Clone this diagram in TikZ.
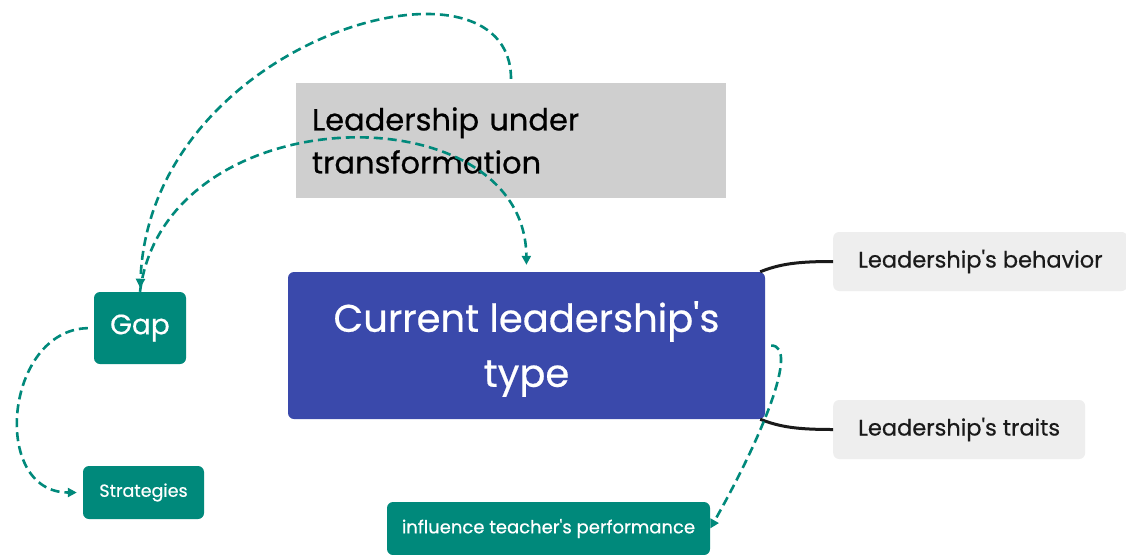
\documentclass[tikz,border=0pt]{standalone}
\usepackage{fontspec}
\setmainfont{Poppins}[FakeBold=0.5]
\usetikzlibrary{arrows.meta}

\definecolor{tealmap}{HTML}{00897B}
\definecolor{indigomap}{HTML}{3A49AB}
\definecolor{greybox}{HTML}{CFCFCF}
\definecolor{greyleaf}{HTML}{EEEEEE}
\definecolor{inkmap}{HTML}{1A1A1A}

\tikzset{
  box/.style={rectangle, rounded corners=6pt, inner sep=0pt, align=center},
  tealbox/.style={box, fill=tealmap, text=white},
  leaf/.style={box, fill=greyleaf, text=inkmap, inner xsep=25pt, minimum height=59pt, anchor=west, font=\fontsize{22.5}{26}\selectfont},
  link/.style={tealmap, line width=2.6pt, dash pattern=on 9pt off 5pt, -{Triangle[length=9pt,width=9pt]}},
  branch/.style={inkmap, line width=3pt},
}

\begin{document}
\begin{tikzpicture}[x=1pt,y=-1pt]
\clip (0,0) rectangle (1126,554);
\fill[white] (0,0) rectangle (1126,554);

\node[rectangle, fill=greybox, text=black, inner xsep=16pt, inner ysep=0pt, text width=398pt, minimum height=115pt, align=left, font=\fontsize{30.5}{43}\selectfont] (trans) at (511,140.5) {Leadership under\\transformation};
\node[box, fill=indigomap, text=white, minimum width=477pt, minimum height=147pt, text depth=3pt, font=\fontsize{38.5}{55}\selectfont] (cur) at (526.5,345.5) {Current leadership\textquotesingle s\\type};
\node[tealbox, minimum width=92pt, minimum height=72pt, font=\fontsize{28}{32}\selectfont] (gap) at (140,328) {Gap};
\node[tealbox, minimum width=121pt, minimum height=53pt, font=\fontsize{17.5}{20}\selectfont] (strat) at (143.5,492.5) {Strategies};
\node[tealbox, minimum width=323pt, minimum height=53pt, font=\fontsize{18}{22}\selectfont] (infl) at (548.5,528.5) {influence teacher\textquotesingle s performance};
\node[leaf] (behav) at (833,261.5) {Leadership\textquotesingle s behavior};
\node[leaf] (trait) at (833,429.5) {Leadership\textquotesingle s traits};

\draw[branch] ([xshift=-5pt]cur.north east) .. controls +(20,-8) and +(-35,0) .. (behav.west);
\draw[branch] ([xshift=-5pt]cur.south east) .. controls +(20,8) and +(-35,0) .. (trait.west);

\draw[link, shorten <=4pt, shorten >=4pt] (trans.north) .. controls +(0,-145) and +(10,-255) .. (gap.north);
\draw[link, shorten >=7pt] (gap.north) .. controls +(25,-197) and +(-1.5,-182) .. (cur.north);
\draw[link, shorten <=6pt, shorten >=6pt] (gap.west) .. controls +(-89,2) and +(-93,0) .. (strat.west);
\draw[link, shorten <=6pt] (cur.east) .. controls +(35,0) and +(50,-88) .. (infl.east);
\end{tikzpicture}
\end{document}
